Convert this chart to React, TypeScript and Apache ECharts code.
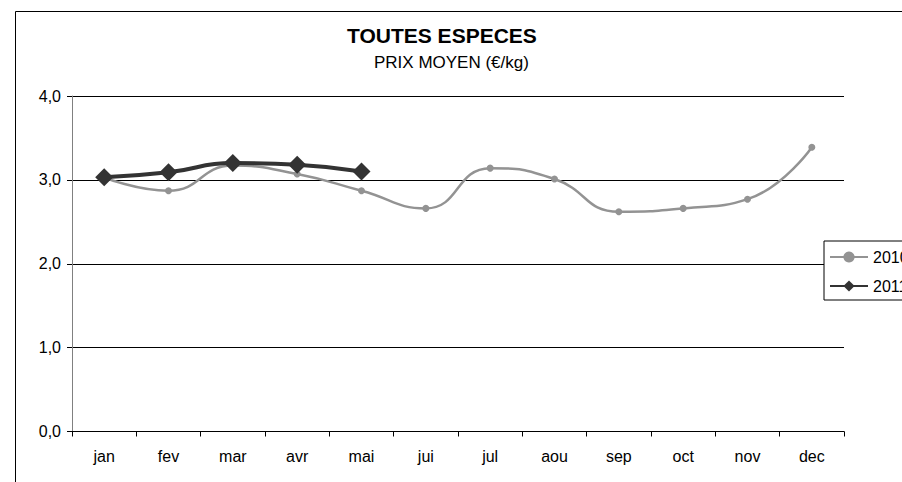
import React, { useEffect, useRef } from "react";
import * as echarts from "echarts";

const months = ["jan", "fev", "mar", "avr", "mai", "jui", "jul", "aou", "sep", "oct", "nov", "dec"];
const values2010 = [3.03, 2.87, 3.17, 3.07, 2.87, 2.66, 3.14, 3.01, 2.62, 2.66, 2.77, 3.39];
const values2011 = [3.03, 3.09, 3.2, 3.18, 3.1];
const seriesNames = ["2010", "2011"];
const yTicks = { min: 0, max: 4, interval: 1 };

const FONT = "'Liberation Sans', Arial, sans-serif";

export default function App() {
  const ref = useRef<HTMLDivElement>(null);
  useEffect(() => {
    if (!ref.current) return;
    const chart = echarts.init(ref.current, null, { renderer: "svg" });
    chart.setOption({
      animation: false,
      backgroundColor: "#fff",
      textStyle: { fontFamily: FONT },
      title: [
        {
          text: "TOUTES ESPECES",
          left: 347,
          top: 24,
          padding: 0,
          textStyle: { fontFamily: FONT, fontSize: 21, fontWeight: "bold", color: "#000", lineHeight: 22 },
        },
        {
          text: "PRIX MOYEN (€/kg)",
          left: 374,
          top: 53,
          padding: 0,
          textStyle: { fontFamily: FONT, fontSize: 17, fontWeight: "normal", color: "#000", lineHeight: 18 },
        },
      ],
      graphic: [
        {
          type: "rect",
          shape: { x: 15.5, y: 11.5, width: 1000, height: 1000 },
          style: { fill: "none", stroke: "#000", lineWidth: 1 },
          silent: true,
          z: -1,
        },
      ],
      legend: {
        orient: "vertical",
        left: 824,
        top: 241,
        padding: [8, 5, 6, 5],
        itemWidth: 38,
        itemHeight: 14,
        itemGap: 13,
        backgroundColor: "#fff",
        borderColor: "#000",
        borderWidth: 1,
        borderRadius: 0,
        textStyle: { fontFamily: FONT, fontSize: 16, color: "#000" },
        data: seriesNames,
        z: 10,
      },
      grid: { left: 72, right: 58, top: 96, bottom: 50.5 },
      xAxis: {
        type: "category",
        data: months,
        boundaryGap: true,
        axisLine: { lineStyle: { color: "#000", width: 1 } },
        axisTick: { show: true, alignWithLabel: false, length: 5, lineStyle: { color: "#000" } },
        axisLabel: { color: "#000", fontSize: 16, fontFamily: FONT, margin: 17 },
        splitLine: { show: false },
      },
      yAxis: {
        type: "value",
        min: yTicks.min,
        max: yTicks.max,
        interval: yTicks.interval,
        axisLine: { show: true, lineStyle: { color: "#808080", width: 1 } },
        axisTick: { show: true, length: 5, lineStyle: { color: "#000" } },
        axisLabel: {
          color: "#000",
          fontSize: 16,
          fontFamily: FONT,
          margin: 11,
          formatter: (v: number) => v.toFixed(1).replace(".", ","),
        },
        splitLine: { show: true, lineStyle: { color: "#000", width: 1 } },
      },
      series: [
        {
          name: seriesNames[0],
          type: "line",
          data: values2010,
          smooth: 0.5,
          symbol: "circle",
          symbolSize: 7,
          lineStyle: { color: "#939393", width: 2.5 },
          itemStyle: { color: "#939393" },
          z: 2,
        },
        {
          name: seriesNames[1],
          type: "line",
          data: values2011,
          smooth: 0.5,
          symbol: "diamond",
          symbolSize: 18,
          lineStyle: { color: "#333333", width: 4 },
          itemStyle: { color: "#333333" },
          z: 3,
        },
      ],
    });
    return () => chart.dispose();
  }, []);
  return <div ref={ref} style={{ position: "absolute", left: 0, top: 0, width: 902, height: 482 }} />;
}
